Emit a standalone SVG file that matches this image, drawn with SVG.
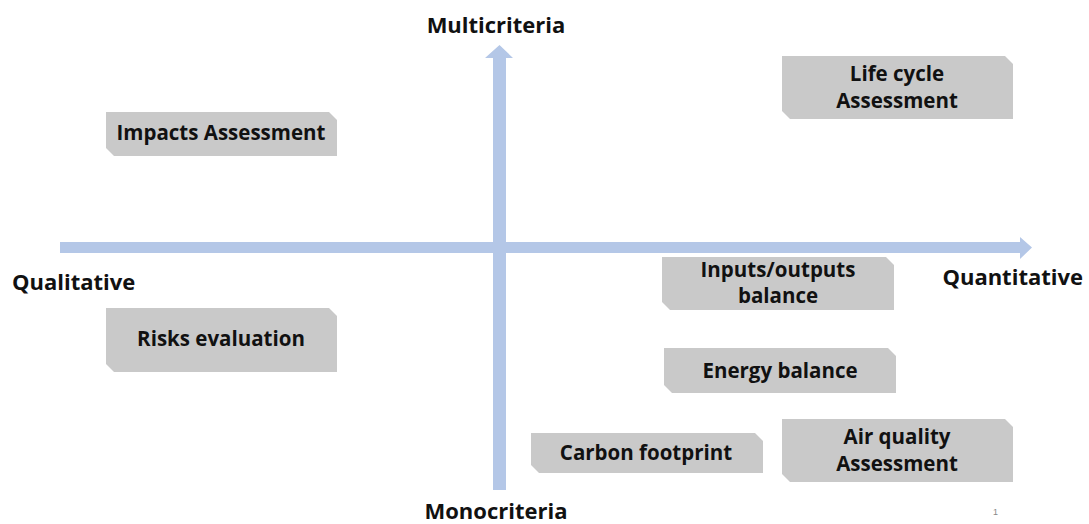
<svg xmlns="http://www.w3.org/2000/svg" width="1089" height="524" viewBox="0 0 1089 524">
<style>
.box{fill:#c9c9c9;}
.t{font-family:"Open Sans","Liberation Sans",sans-serif;font-weight:bold;font-size:20.5px;fill:#111;text-anchor:middle;}
.ax{font-family:"Open Sans","Liberation Sans",sans-serif;font-weight:bold;font-size:22px;fill:#111;}
.arrow{fill:#b4c7e7;}
</style>
<rect width="1089" height="524" fill="#ffffff"/>
<g id="connectors">
<polygon class="arrow" points="60,242 1020,242 1020,237 1032,247.5 1020,259 1020,253 60,253"/>
<polygon class="arrow" points="493,490 493,58 485,58 499.5,45 513,58 506,58 506,490"/>
</g>
<g id="axis-labels">
<text class="ax" x="496" y="33" text-anchor="middle">Multicriteria</text>
<text class="ax" x="496" y="519" text-anchor="middle">Monocriteria</text>
<text class="ax" x="12" y="290">Qualitative</text>
<text class="ax" x="1083" y="285" text-anchor="end">Quantitative</text>
<text x="993" y="515" font-family="Liberation Sans,sans-serif" font-size="9" fill="#888">1</text>
</g>
<g id="impacts">
<polygon class="box" points="106,112 329,112 337,120 337,156 114,156 106,148"/>
<text class="t" x="221" y="140">Impacts Assessment</text>
</g>
<g id="lca">
<polygon class="box" points="782,56 1005,56 1013,64 1013,119 790,119 782,111"/>
<text class="t" x="897" y="81">Life cycle</text>
<text class="t" x="897" y="108">Assessment</text>
</g>
<g id="risks">
<polygon class="box" points="106,308 329,308 337,316 337,372 114,372 106,364"/>
<text class="t" x="221" y="346">Risks evaluation</text>
</g>
<g id="inputs">
<polygon class="box" points="662,257 886,257 894,265 894,310 670,310 662,302"/>
<text class="t" x="778" y="277">Inputs/outputs</text>
<text class="t" x="778" y="303">balance</text>
</g>
<g id="energy">
<polygon class="box" points="664,348 888,348 896,356 896,393 672,393 664,385"/>
<text class="t" x="780" y="378">Energy balance</text>
</g>
<g id="carbon">
<polygon class="box" points="531,433 755,433 763,441 763,473 539,473 531,465"/>
<text class="t" x="646" y="460">Carbon footprint</text>
</g>
<g id="air">
<polygon class="box" points="782,419 1005,419 1013,427 1013,482 790,482 782,474"/>
<text class="t" x="897" y="444">Air quality</text>
<text class="t" x="897" y="471">Assessment</text>
</g>
</svg>
